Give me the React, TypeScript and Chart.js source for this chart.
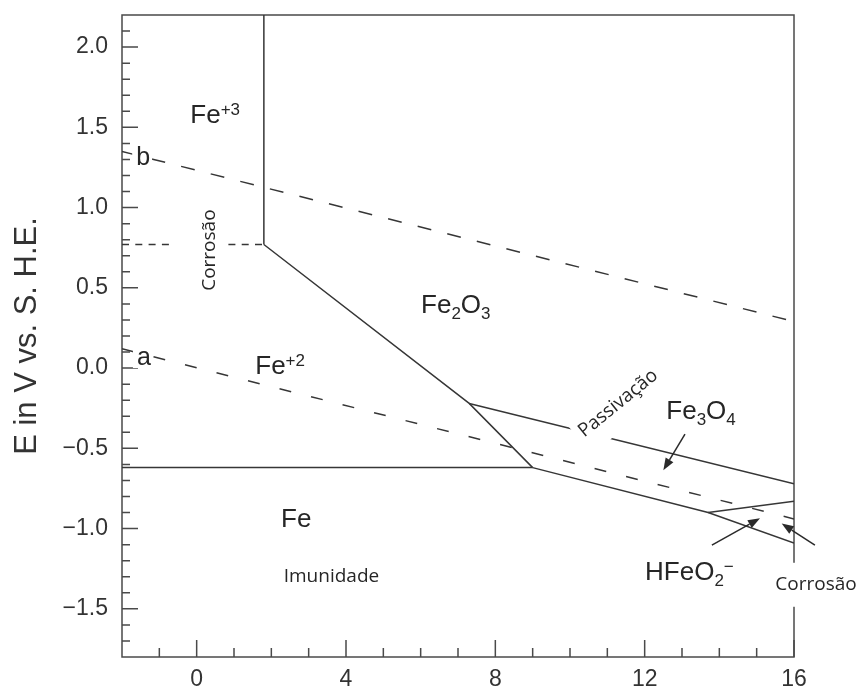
import React, { useEffect, useRef } from "react";
import { Chart, registerables } from "chart.js";

Chart.register(...registerables);

// ---------- axes ----------
const pHMin = -2;
const pHMax = 16;
const EMin = -1.8;
const EMax = 2.2;
const xMajorTicks = [0, 4, 8, 12, 16];
const xMinorTicks = [-1, 1, 2, 3, 5, 6, 7, 9, 10, 11, 13, 14, 15];
const yMajorTicks = [-1.5, -1.0, -0.5, 0.0, 0.5, 1.0, 1.5, 2.0];
const yMinorTicks = [
  -1.7, -1.6, -1.4, -1.3, -1.2, -1.1, -0.9, -0.8, -0.7, -0.6, -0.4, -0.3, -0.2, -0.1,
  0.1, 0.2, 0.3, 0.4, 0.6, 0.7, 0.8, 0.9, 1.1, 1.2, 1.3, 1.4, 1.6, 1.7, 1.8, 1.9, 2.1,
];
const yTitle = "E in V vs. S. H.E.";

// ---------- boundaries (pH, E) ----------
const fe3Fe2Vert_pH = [1.8, 1.8];
const fe3Fe2Vert_E = [2.2, 0.77];
const fe3Fe2Dotted_pH = [-2, 1.8];
const fe3Fe2Dotted_E = [0.77, 0.77];
const fe2Oxide_pH = [1.8, 7.3, 9.0];
const fe2Oxide_E = [0.77, -0.22, -0.62];
const feFe2_pH = [-2, 9.0];
const feFe2_E = [-0.62, -0.62];
const feOxide_pH = [9.0, 13.7, 16];
const feOxide_E = [-0.62, -0.9, -1.09];
const fe2o3Fe3o4_pH = [7.3, 16];
const fe2o3Fe3o4_E = [-0.22, -0.72];
const fe3o4Hfeo2_pH = [13.7, 16];
const fe3o4Hfeo2_E = [-0.9, -0.83];
const lineA_pH = [-2, 16];
const lineA_E = [0.12, -0.94];
const lineB_pH = [-2, 16];
const lineB_E = [1.35, 0.29];

// ---------- arrows ----------
const arrowFrom_pH = [13.08, 13.8, 16.56];
const arrowFrom_E = [-0.411, -1.103, -1.103];
const arrowTo_pH = [12.5, 15.09, 15.67];
const arrowTo_E = [-0.636, -0.936, -0.968];

// ---------- labels ----------
type Seg = { t: string; k?: "sub" | "sup" };
const chemLabels: { segs: Seg[]; x: number; y: number }[] = [
  { segs: [{ t: "Fe" }, { t: "+3", k: "sup" }], x: -0.17, y: 1.526 },
  { segs: [{ t: "Fe" }, { t: "2", k: "sub" }, { t: "O" }, { t: "3", k: "sub" }], x: 6.01, y: 0.343 },
  { segs: [{ t: "Fe" }, { t: "+2", k: "sup" }], x: 1.57, y: -0.037 },
  { segs: [{ t: "Fe" }, { t: "3", k: "sub" }, { t: "O" }, { t: "4", k: "sub" }], x: 12.58, y: -0.318 },
  { segs: [{ t: "Fe" }], x: 2.26, y: -0.99 },
  { segs: [{ t: "HFeO" }, { t: "2", k: "sub" }, { t: "\u2212", k: "sup" }], x: 12.01, y: -1.32 },
];
const letterLabels = [
  { t: "b", x: -1.62, y: 1.265 },
  { t: "a", x: -1.6, y: 0.019 },
];
const notes = [
  { t: "Corros\u00e3o", x: 0.357, y: 0.735, rot: -90, padU: 2, vTop: -37, vBot: 16 },
  { t: "Passiva\u00e7\u00e3o", x: 11.29, y: -0.22, rot: -39, padU: 5, vTop: -14, vBot: 23 },
  { t: "Imunidade", x: 3.61, y: -1.30, rot: 0, padU: 0, vTop: 0, vBot: 0 },
  { t: "Corros\u00e3o", x: 16.59, y: -1.35, rot: 0, padU: 3, vTop: -22, vBot: 22 },
];

const SANS = "'Liberation Sans', Arial, Helvetica, sans-serif";
const NOTE = "'Open Sans', 'Noto Sans', sans-serif";
const LINE = "#363636";
const TEXT = "#262626";

function pts(xs: number[], ys: number[]) {
  return xs.map((x, i) => ({ x, y: ys[i] }));
}

const datasets = [
  { data: pts(fe3Fe2Vert_pH, fe3Fe2Vert_E), borderDash: [] as number[] },
  { data: pts(fe3Fe2Dotted_pH, fe3Fe2Dotted_E), borderDash: [7, 6.3] },
  { data: pts(fe2Oxide_pH, fe2Oxide_E), borderDash: [] },
  { data: pts(feFe2_pH, feFe2_E), borderDash: [] },
  { data: pts(feOxide_pH, feOxide_E), borderDash: [] },
  { data: pts(fe2o3Fe3o4_pH, fe2o3Fe3o4_E), borderDash: [] },
  { data: pts(fe3o4Hfeo2_pH, fe3o4Hfeo2_E), borderDash: [] },
  { data: pts(lineA_pH, lineA_E), borderDash: [12, 20.5] },
  { data: pts(lineB_pH, lineB_E), borderDash: [14, 16.5] },
].map((d) => ({
  ...d,
  showLine: true,
  pointRadius: 0,
  pointHoverRadius: 0,
  borderColor: LINE,
  borderWidth: 1.5,
  fill: false,
  tension: 0,
}));

function drawArrow(ctx: CanvasRenderingContext2D, x0: number, y0: number, x1: number, y1: number) {
  const ang = Math.atan2(y1 - y0, x1 - x0);
  const L = 12;
  const W = 4.5;
  const bx = x1 - L * Math.cos(ang);
  const by = y1 - L * Math.sin(ang);
  ctx.beginPath();
  ctx.moveTo(x0, y0);
  ctx.lineTo(bx, by);
  ctx.stroke();
  ctx.beginPath();
  ctx.moveTo(x1, y1);
  ctx.lineTo(bx - W * Math.sin(ang), by + W * Math.cos(ang));
  ctx.lineTo(bx + W * Math.sin(ang), by - W * Math.cos(ang));
  ctx.closePath();
  ctx.fill();
}

const overlayPlugin = {
  id: "pourbaixOverlay",
  beforeDatasetsDraw(chart: any) {
    const { ctx, chartArea: a, scales } = chart;
    const xs = scales.x;
    const ys = scales.y;
    ctx.save();
    ctx.strokeStyle = "#4a4a4a";
    ctx.lineWidth = 1.5;
    ctx.strokeRect(a.left, a.top, a.right - a.left, a.bottom - a.top);
    ctx.beginPath();
    for (const v of yMajorTicks) {
      const p = ys.getPixelForValue(v);
      ctx.moveTo(a.left, p);
      ctx.lineTo(a.left + 16, p);
    }
    for (const v of yMinorTicks) {
      const p = ys.getPixelForValue(v);
      ctx.moveTo(a.left, p);
      ctx.lineTo(a.left + 8, p);
    }
    for (const v of xMajorTicks) {
      const p = xs.getPixelForValue(v);
      ctx.moveTo(p, a.bottom);
      ctx.lineTo(p, a.bottom - 17);
    }
    for (const v of xMinorTicks) {
      const p = xs.getPixelForValue(v);
      ctx.moveTo(p, a.bottom);
      ctx.lineTo(p, a.bottom - 9);
    }
    ctx.stroke();
    ctx.restore();
  },
  afterDraw(chart: any) {
    const { ctx, scales } = chart;
    const xs = scales.x;
    const ys = scales.y;
    ctx.save();

    // chemical species labels
    ctx.fillStyle = TEXT;
    ctx.textAlign = "left";
    ctx.textBaseline = "alphabetic";
    const F = 26;
    const S = 17;
    for (const lab of chemLabels) {
      let cx = xs.getPixelForValue(lab.x);
      const by = ys.getPixelForValue(lab.y);
      for (const s of lab.segs) {
        const fs = s.k ? S : F;
        ctx.font = `${fs}px ${SANS}`;
        const dy = s.k === "sub" ? 6 : s.k === "sup" ? -8 : 0;
        ctx.fillText(s.t, cx, by + dy);
        cx += ctx.measureText(s.t).width;
      }
    }

    // a / b line labels with white background
    ctx.font = `25px ${SANS}`;
    for (const l of letterLabels) {
      const px = xs.getPixelForValue(l.x);
      const py = ys.getPixelForValue(l.y);
      const w = ctx.measureText(l.t).width;
      ctx.fillStyle = "#ffffff";
      ctx.fillRect(px - 4, py - 20, w + 6, 23);
      ctx.fillStyle = TEXT;
      ctx.fillText(l.t, px, py);
    }

    // Portuguese notes
    ctx.font = `19px ${NOTE}`;
    for (const n of notes) {
      const px = xs.getPixelForValue(n.x);
      const py = ys.getPixelForValue(n.y);
      const w = ctx.measureText(n.t).width;
      ctx.save();
      ctx.translate(px, py);
      ctx.rotate((n.rot * Math.PI) / 180);
      ctx.textAlign = "center";
      if (n.vBot - n.vTop > 0) {
        ctx.fillStyle = "#ffffff";
        ctx.fillRect(-w / 2 - n.padU, n.vTop, w + 2 * n.padU, n.vBot - n.vTop);
      }
      ctx.fillStyle = TEXT;
      ctx.textBaseline = "middle";
      ctx.fillText(n.t, 0, 0);
      ctx.restore();
    }

    // arrows
    ctx.strokeStyle = "#2a2a2a";
    ctx.fillStyle = "#2a2a2a";
    ctx.lineWidth = 1.5;
    for (let i = 0; i < arrowFrom_pH.length; i++) {
      drawArrow(
        ctx,
        xs.getPixelForValue(arrowFrom_pH[i]),
        ys.getPixelForValue(arrowFrom_E[i]),
        xs.getPixelForValue(arrowTo_pH[i]),
        ys.getPixelForValue(arrowTo_E[i])
      );
    }
    ctx.restore();
  },
};

function fmtE(v: number) {
  if (Math.abs(v) < 1e-9) return "0.0";
  return v < 0 ? "\u2212" + Math.abs(v).toFixed(1) : v.toFixed(1);
}

export default function App() {
  const ref = useRef<HTMLCanvasElement>(null);
  useEffect(() => {
    document.body.style.margin = "0";
    const chart = new Chart(ref.current as HTMLCanvasElement, {
      type: "scatter",
      data: { datasets: datasets as any },
      options: {
        animation: false,
        responsive: false,
        devicePixelRatio: 1,
        events: [],
        layout: { padding: { top: 15, right: 65, left: 0, bottom: 0 } },
        plugins: { legend: { display: false }, tooltip: { enabled: false } },
        scales: {
          x: {
            type: "linear",
            min: pHMin,
            max: pHMax,
            grid: { display: false, drawTicks: false, tickLength: 0 },
            border: { display: false },
            afterBuildTicks: (s: any) => {
              s.ticks = xMajorTicks.map((v) => ({ value: v }));
            },
            afterFit: (s: any) => {
              s.height = 31;
              s.paddingLeft = 0;
              s.paddingRight = 0;
            },
            ticks: {
              autoSkip: false,
              maxRotation: 0,
              padding: 9,
              color: "#333",
              font: { size: 23, family: SANS },
              callback: (v: any) => String(v),
            },
          },
          y: {
            type: "linear",
            min: EMin,
            max: EMax,
            grid: { display: false, drawTicks: false, tickLength: 0 },
            border: { display: false },
            afterBuildTicks: (s: any) => {
              s.ticks = yMajorTicks.map((v) => ({ value: v }));
            },
            afterFit: (s: any) => {
              s.width = 122;
              s.paddingTop = 0;
              s.paddingBottom = 0;
            },
            ticks: {
              autoSkip: false,
              padding: 14,
              color: "#333",
              font: { size: 23, family: SANS },
              callback: (v: any) => fmtE(Number(v)),
            },
            title: {
              display: true,
              text: yTitle,
              color: "#333",
              font: { size: 31, family: SANS },
              padding: { top: 9, bottom: 0 },
            },
          },
        },
      } as any,
      plugins: [overlayPlugin],
    });
    return () => chart.destroy();
  }, []);
  return (
    <div style={{ width: 859, height: 688 }}>
      <canvas ref={ref} width={859} height={688} style={{ display: "block" }} />
    </div>
  );
}
